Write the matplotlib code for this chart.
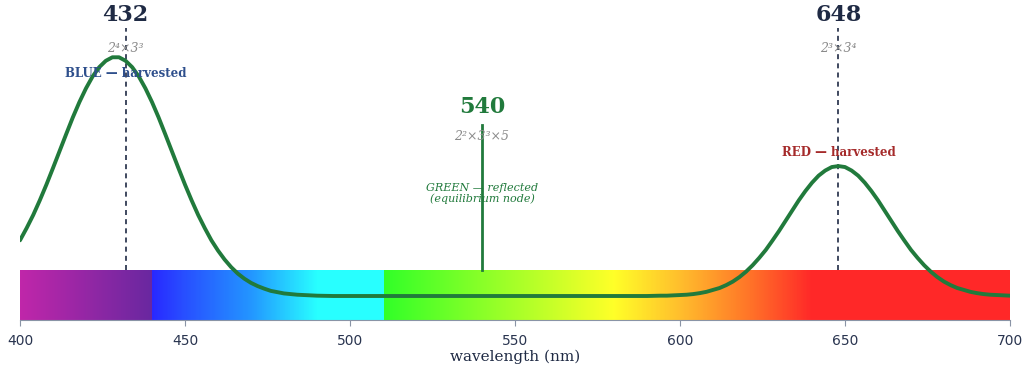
import numpy as np
import matplotlib
matplotlib.use("Agg")
import matplotlib.pyplot as plt

# absorption-like curve (wavelength nm -> height, axes units 0..1)
wl = (list(range(400, 492, 2))
      + [495, 500, 510, 520, 530, 540, 550, 560, 570, 580, 590]
      + list(range(594, 702, 2)))
absorb = [0.249, 0.287, 0.328, 0.374, 0.423, 0.475, 0.528, 0.581, 0.633, 0.681,
          0.724, 0.761, 0.790, 0.810, 0.821, 0.821, 0.810, 0.790, 0.761, 0.724,
          0.681, 0.633, 0.581, 0.528, 0.475, 0.423, 0.374, 0.328, 0.287, 0.249,
          0.217, 0.189, 0.165, 0.145, 0.129, 0.116, 0.106, 0.098, 0.091, 0.087,
          0.083, 0.081, 0.079, 0.078, 0.077, 0.076,
          0.075, 0.075, 0.075, 0.075, 0.075, 0.075, 0.075, 0.075, 0.075, 0.075,
          0.075,
          0.076, 0.076, 0.077, 0.078, 0.079, 0.081, 0.084, 0.088, 0.094, 0.100,
          0.109, 0.120, 0.134, 0.151, 0.171, 0.194, 0.219, 0.248, 0.278, 0.310,
          0.342, 0.374, 0.403, 0.429, 0.451, 0.467, 0.478, 0.481, 0.478, 0.467,
          0.451, 0.429, 0.403, 0.374, 0.342, 0.310, 0.278, 0.248, 0.219, 0.194,
          0.171, 0.151, 0.134, 0.120, 0.109, 0.100, 0.094, 0.088, 0.084, 0.081,
          0.079, 0.078, 0.077, 0.076]

# spectrum bar colour stops
stop_wl = [400, 439.9, 440, 450, 470, 490, 510.4, 510.5, 580, 600, 620, 640, 700]
stop_rgb = [(192, 38, 170), (105, 40, 160), (40, 40, 255), (40, 80, 255),
            (35, 150, 255), (40, 255, 255), (40, 255, 255), (50, 255, 40),
            (255, 255, 40), (255, 190, 45), (255, 120, 40), (255, 40, 40),
            (255, 40, 40)]

nodes = [432, 540, 648]
node_factors = ["2⁴×3³", "2²×3³×5", "2³×3⁴"]
ticks = [400, 450, 500, 550, 600, 650, 700]

navy = "#1f2a44"
green = "#217a3c"
grey = "#8a8a8a"

fig = plt.figure(figsize=(10.23, 3.70), dpi=100)
ax = fig.add_axes([20 / 1023, 50 / 370, 990 / 1023, 320 / 370])

# spectrum strip
grid = np.linspace(400, 700, 1201)
rgb = np.array(stop_rgb) / 255.0
strip = np.stack([np.interp(grid, stop_wl, rgb[:, k]) for k in range(3)], axis=-1)
ax.imshow(strip[np.newaxis, :, :], extent=[400, 700, 0, 0.156], aspect="auto",
          interpolation="nearest", zorder=1)

ax.plot(wl, absorb, color=green, lw=2.8, solid_joinstyle="round",
        solid_capstyle="round", zorder=4)

# harvested nodes
for x, fac in [(nodes[0], node_factors[0]), (nodes[2], node_factors[2])]:
    ax.plot([x, x], [0.156, 0.9125], color=navy, lw=1.2, ls=(0, (3, 2.5)), zorder=3)
    ax.text(x, 0.953, str(x), ha="center", va="center", fontsize=16,
            fontweight="bold", family="DejaVu Serif", color=navy)
    ax.text(x, 0.847, fac, ha="center", va="center", fontsize=9,
            style="italic", family="DejaVu Serif", color=grey)

# reflected node
ax.plot([nodes[1], nodes[1]], [0.156, 0.609], color=green, lw=2, zorder=3)
ax.text(nodes[1], 0.666, str(nodes[1]), ha="center", va="center", fontsize=16,
        fontweight="bold", family="DejaVu Serif", color=green)
ax.text(nodes[1], 0.572, node_factors[1], ha="center", va="center", fontsize=9,
        style="italic", family="DejaVu Serif", color=grey)
ax.text(nodes[1], 0.394, "GREEN — reflected\n(equilibrium node)", ha="center",
        va="center", fontsize=8, style="italic", family="DejaVu Serif",
        color=green, linespacing=1.05)

ax.text(432, 0.769, "BLUE — harvested", ha="center", va="center", fontsize=8.5,
        fontweight="bold", family="DejaVu Serif", color="#2e4f8c", zorder=5)
ax.text(648, 0.522, "RED — harvested", ha="center", va="center", fontsize=8.5,
        fontweight="bold", family="DejaVu Serif", color="#a52a2a", zorder=5)

ax.set_xlim(400, 700)
ax.set_ylim(0, 1)
ax.set_xticks(ticks)
ax.set_yticks([])
for s in ["left", "right", "top"]:
    ax.spines[s].set_visible(False)
ax.spines["bottom"].set_color("#8a94a6")
ax.tick_params(axis="x", colors="#8a94a6", labelcolor="#2a3550", labelsize=10,
               length=4, pad=6)
ax.set_xlabel("wavelength (nm)", family="DejaVu Serif", fontsize=11,
              color=navy, labelpad=1)

fig.savefig("out.png", dpi=100)
